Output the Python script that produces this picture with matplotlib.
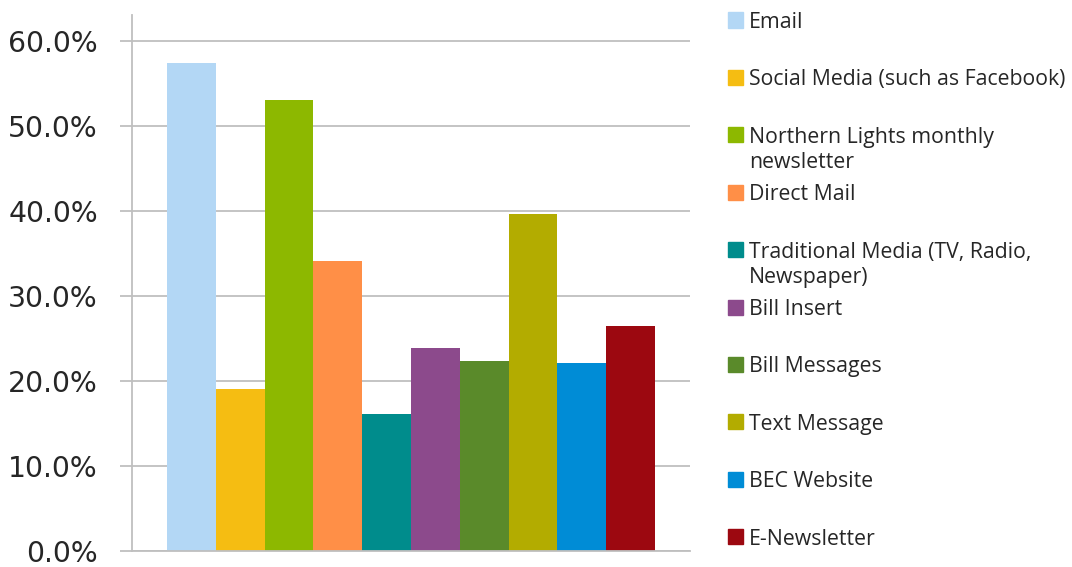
import numpy as np
import matplotlib
matplotlib.use("Agg")
import matplotlib.pyplot as plt
from matplotlib.patches import Rectangle

labels = [
    "Email",
    "Social Media (such as Facebook)",
    "Northern Lights monthly\nnewsletter",
    "Direct Mail",
    "Traditional Media (TV, Radio,\nNewspaper)",
    "Bill Insert",
    "Bill Messages",
    "Text Message",
    "BEC Website",
    "E-Newsletter",
]
values = [57.4, 19.1, 53.1, 34.1, 16.1, 23.9, 22.4, 39.6, 22.1, 26.5]
colors = ["#B3D7F5", "#F5BD12", "#8DB800", "#FF8F47", "#008C8C",
          "#8C4A8C", "#5A8A2A", "#B3AC00", "#008CD6", "#9C0810"]
yticks = [0, 10, 20, 30, 40, 50, 60]

W, H = 1072, 567
fig = plt.figure(figsize=(W / 100, H / 100), dpi=100)
ax = fig.add_axes([132 / W, 1 - 551 / H, (690 - 132) / W, (551 - 15) / H])

n = len(values)
x = np.arange(n)
ax.bar(x, values, width=1.0, color=colors, align="center")
ax.set_xlim(-0.5 - 35 / 48.8, n - 0.5 + 35 / 48.8)
ax.set_ylim(0, 63.06)

grid_c = "#BFBFBF"
ax.set_yticks(yticks)
ax.set_yticklabels([f"{t:.1f}%" for t in yticks], fontsize=20.3,
                   color="#262626", family="DejaVu Sans")
ax.set_xticks([])
ax.yaxis.grid(True, color=grid_c, linewidth=1.3)
ax.set_axisbelow(True)
ax.tick_params(axis="y", length=8.6, width=1.3, color=grid_c, pad=16)
for s in ["top", "right"]:
    ax.spines[s].set_visible(False)
ax.spines["left"].set_color(grid_c)
ax.spines["left"].set_linewidth(1.3)
ax.spines["bottom"].set_color(grid_c)
ax.spines["bottom"].set_linewidth(1.3)

# legend drawn by hand so multi-line entries keep the even spacing
for i, (lab, c) in enumerate(zip(labels, colors)):
    yc = 20 + 57.4 * i
    fig.patches.append(Rectangle((728 / W, 1 - (yc + 7.5) / H), 15 / W, 15 / H,
                                 transform=fig.transFigure, color=c))
    fig.text(749 / W, 1 - (yc - 8) / H, lab, fontsize=15.3, family="Open Sans",
             color="#262626", va="top", ha="left", linespacing=1.25)

fig.savefig("out.png", dpi=100)
